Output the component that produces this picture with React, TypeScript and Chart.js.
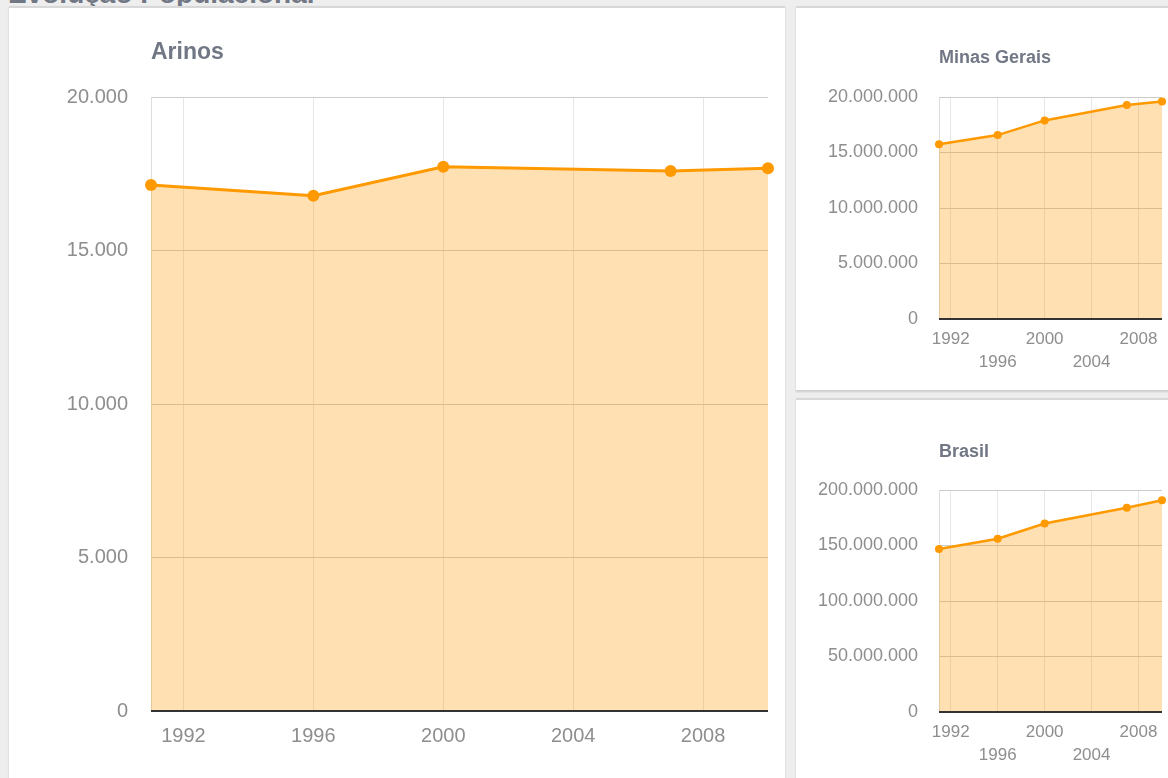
import React, { useEffect, useRef } from "react";
import { Chart, registerables } from "chart.js";

Chart.register(...registerables);

const years = [1991, 1996, 2000, 2007, 2010];
const arinosValues = [17134, 16785, 17730, 17590, 17678];
const minasValues = [15743152, 16567989, 17891494, 19273506, 19597330];
const brasilValues = [146825475, 156032944, 169799170, 183987291, 190755799];
const xTickYears = [1992, 1996, 2000, 2004, 2008];
const arinosYTicks = [0, 5000, 10000, 15000, 20000];
const minasYTicks = [0, 5000000, 10000000, 15000000, 20000000];
const brasilYTicks = [0, 50000000, 100000000, 150000000, 200000000];

const FONT = "Arial, 'Liberation Sans', sans-serif";
const TICK_COLOR = "#8e8e8e";
const TITLE_COLOR = "#717784";

function fmt(v: number): string {
  return String(Math.round(v)).replace(/\B(?=(\d{3})+(?!\d))/g, ".");
}

type Cfg = {
  values: number[];
  yTicks: number[];
  yWidth: number;
  xHeight: number;
  padTop: number;
  padRight: number;
  big: boolean;
};

const baselinePlugin = {
  id: "baseline",
  afterDatasetsDraw(chart: any) {
    const { ctx, chartArea } = chart;
    ctx.save();
    ctx.strokeStyle = "#333333";
    ctx.lineWidth = 2;
    ctx.beginPath();
    ctx.moveTo(chartArea.left, chartArea.bottom);
    ctx.lineTo(chartArea.right, chartArea.bottom);
    ctx.stroke();
    ctx.restore();
  },
};

function LineArea({ cfg, width, height }: { cfg: Cfg; width: number; height: number }) {
  const ref = useRef<HTMLCanvasElement | null>(null);
  useEffect(() => {
    if (!ref.current) return;
    const big = cfg.big;
    const chart = new Chart(ref.current, {
      type: "line",
      data: {
        datasets: [
          {
            data: years.map((y, i) => ({ x: y, y: cfg.values[i] })),
            borderColor: "#ff9900",
            backgroundColor: "rgba(255,153,0,0.3)",
            borderWidth: big ? 3 : 2.5,
            pointRadius: big ? 6 : 4,
            pointBackgroundColor: "#ff9900",
            pointBorderColor: "#ff9900",
            pointBorderWidth: 0,
            fill: "origin",
            tension: 0,
            clip: false,
          },
        ],
      },
      plugins: [baselinePlugin],
      options: {
        responsive: false,
        animation: false,
        layout: { padding: { top: cfg.padTop, right: cfg.padRight, left: 0, bottom: 0 } },
        plugins: { legend: { display: false }, tooltip: { enabled: false } },
        scales: {
          x: {
            type: "linear",
            min: 1991,
            max: 2010,
            afterBuildTicks: (s: any) => {
              s.ticks = xTickYears.map((v) => ({ value: v }));
            },
            afterFit: (s: any) => {
              s.height = cfg.xHeight;
            },
            grid: { color: "#e6e6e6", lineWidth: 1, drawTicks: false },
            border: { display: false },
            ticks: {
              autoSkip: false,
              maxRotation: 0,
              minRotation: 0,
              padding: big ? 13 : 8,
              color: TICK_COLOR,
              font: { family: FONT, size: big ? 20 : 17, lineHeight: big ? 1.2 : 1.4 },
              callback: (v: any) => {
                const n = Number(v);
                if (big) return String(n);
                const idx = xTickYears.indexOf(n);
                return idx % 2 === 1 ? ["", String(n)] : String(n);
              },
            },
          },
          y: {
            min: 0,
            max: cfg.yTicks[cfg.yTicks.length - 1],
            afterBuildTicks: (s: any) => {
              s.ticks = cfg.yTicks.map((v) => ({ value: v }));
            },
            afterFit: (s: any) => {
              s.width = cfg.yWidth;
            },
            grid: { color: "#cccccc", lineWidth: 1, drawTicks: false },
            border: { display: true, color: "#dddddd", width: 1 },
            ticks: {
              padding: big ? 23 : 21,
              color: TICK_COLOR,
              font: { family: FONT, size: big ? 20 : 18 },
              callback: (v: any) => fmt(Number(v)),
            },
          },
        },
      },
    });
    return () => chart.destroy();
  }, [cfg]);
  return <canvas ref={ref} width={width} height={height} style={{ display: "block", width, height }} />;
}

const arinosCfg: Cfg = { values: arinosValues, yTicks: arinosYTicks, yWidth: 142, xHeight: 67, padTop: 89, padRight: 17, big: true };
const minasCfg: Cfg = { values: minasValues, yTicks: minasYTicks, yWidth: 143, xHeight: 71, padTop: 89, padRight: 6, big: false };
const brasilCfg: Cfg = { values: brasilValues, yTicks: brasilYTicks, yWidth: 143, xHeight: 66, padTop: 90, padRight: 6, big: false };

const panel: React.CSSProperties = {
  position: "absolute",
  background: "#ffffff",
  borderTop: "2px solid #d8d8d8",
  boxShadow: "0 1px 2px rgba(0,0,0,0.15)",
  overflow: "hidden",
};

export default function App() {
  return (
    <div
      style={{
        position: "fixed",
        left: 0,
        top: 0,
        width: 1168,
        height: 778,
        background: "#eeeeee",
        overflow: "hidden",
        fontFamily: FONT,
      }}
    >
      <div
        style={{
          position: "absolute",
          left: 8,
          top: -20,
          fontSize: 28,
          lineHeight: "28px",
          fontWeight: "bold",
          color: TITLE_COLOR,
          whiteSpace: "nowrap",
        }}
      >
        Evolução Populacional
      </div>
      <div style={{ ...panel, left: 9, top: 6, width: 776, height: 800 }}>
        <div style={{ position: "absolute", left: 0, top: 0 }}>
          <LineArea cfg={arinosCfg} width={776} height={770} />
        </div>
        <div
          style={{ position: "absolute", left: 142, top: 28, fontSize: 23, lineHeight: "30px", fontWeight: "bold", color: TITLE_COLOR }}
        >
          Arinos
        </div>
      </div>
      <div style={{ ...panel, left: 796, top: 6, width: 400, height: 382, borderBottom: "1px solid #d0d0d0" }}>
        <div style={{ position: "absolute", left: 0, top: 0 }}>
          <LineArea cfg={minasCfg} width={372} height={382} />
        </div>
        <div
          style={{ position: "absolute", left: 143, top: 37, fontSize: 18, lineHeight: "24px", fontWeight: "bold", color: TITLE_COLOR }}
        >
          Minas Gerais
        </div>
      </div>
      <div style={{ ...panel, left: 796, top: 398, width: 400, height: 400 }}>
        <div style={{ position: "absolute", left: 0, top: 0 }}>
          <LineArea cfg={brasilCfg} width={372} height={378} />
        </div>
        <div
          style={{ position: "absolute", left: 143, top: 39, fontSize: 18, lineHeight: "24px", fontWeight: "bold", color: TITLE_COLOR }}
        >
          Brasil
        </div>
      </div>
    </div>
  );
}
